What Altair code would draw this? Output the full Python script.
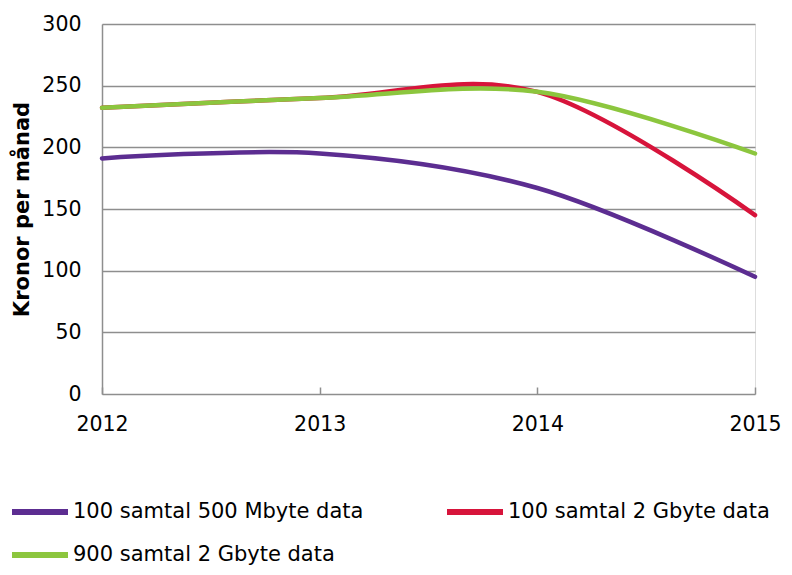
import altair as alt
import pandas as pd

years = [2012, 2013, 2014, 2015]
series_names = ["100 samtal 500 Mbyte data", "100 samtal 2 Gbyte data", "900 samtal 2 Gbyte data"]
purple_vals = [191, 195, 167, 95]
red_vals = [232, 240, 245, 145]
green_vals = [232, 240, 245, 195]
colors = ["#5C2D91", "#D7143B", "#8CC63E"]
y_ticks = [0, 50, 100, 150, 200, 250, 300]

rows = []
for order, (name, vals) in enumerate(zip(series_names, [purple_vals, red_vals, green_vals])):
    for yr, v in zip(years, vals):
        rows.append({"year": yr, "value": v, "series": name, "order": order})
df = pd.DataFrame(rows)

font = "DejaVu Sans"

chart = alt.Chart(df).mark_line(
    interpolate="cardinal", strokeWidth=4.5, strokeCap="round"
).encode(
    x=alt.X("year:Q",
            scale=alt.Scale(domain=[2012, 2015], nice=False, zero=False),
            axis=alt.Axis(values=years, format="d", title=None, grid=False,
                          domain=False, ticks=True, tickSize=7, tickColor="#8e8e8e",
                          tickWidth=1.5, offset=-7, labelPadding=20,
                          labelFont=font, labelFontSize=20.5, labelColor="#000000",
                          labelFlush=False)),
    y=alt.Y("value:Q",
            scale=alt.Scale(domain=[0, 300], nice=False),
            axis=alt.Axis(values=y_ticks, title="Kronor per månad", grid=True,
                          gridColor="#8e8e8e", gridWidth=1.5,
                          domain=True, domainColor="#8e8e8e", domainWidth=1.5,
                          ticks=False, tickSize=0, labelPadding=21,
                          labelFont=font, labelFontSize=20.5, labelColor="#000000",
                          titleFont=font, titleFontSize=21, titleFontWeight="bold",
                          titleColor="#000000", titleAngle=270, titleX=-74, titleY=185,
                          titleAlign="center", titleBaseline="alphabetic")),
    color=alt.Color("series:N",
                    scale=alt.Scale(domain=series_names, range=colors),
                    legend=alt.Legend(title=None, orient="none", legendX=-93, legendY=457,
                                      direction="horizontal",
                                      columns=2, columnPadding=71, rowPadding=0,
                                      symbolType="stroke", symbolSize=3136,
                                      symbolStrokeWidth=6, labelOffset=2,
                                      labelFont=font, labelFontSize=21,
                                      labelColor="#000000", labelLimit=400)),
    order=alt.Order("order:Q"),
).properties(
    width=653, height=370,
    autosize=alt.AutoSizeParams(type="none"),
    padding={"left": 94, "top": 16, "right": 29, "bottom": 173},
).configure_view(stroke=None).configure(background="white")

chart.save("out.html", embed_options={"renderer": "svg", "actions": False})
